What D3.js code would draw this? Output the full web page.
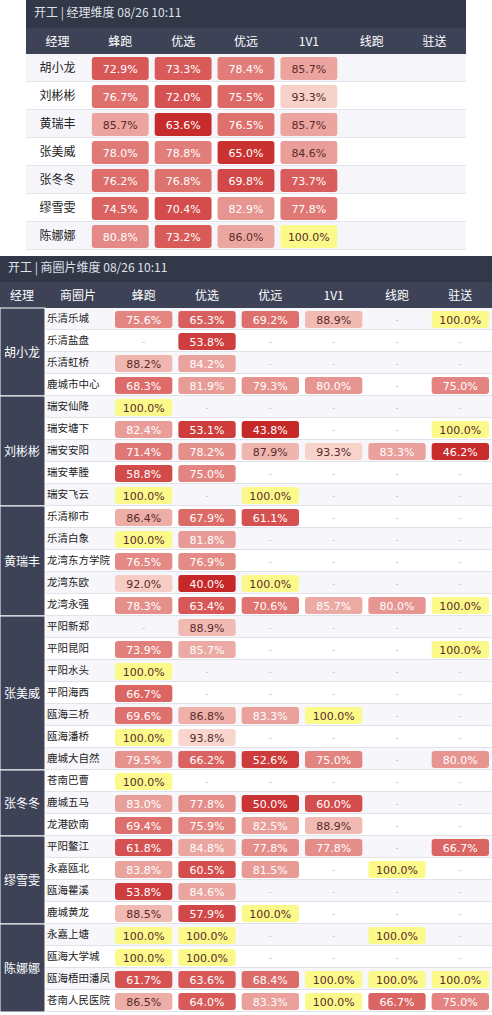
<!DOCTYPE html>
<html><head><meta charset="utf-8">
<script src="https://cdn.jsdelivr.net/npm/d3@7"></script>
<style>body{margin:0;background:#fff;font-family:"Noto Sans CJK SC","DejaVu Sans",sans-serif}</style>
</head><body><svg id="c" width="492" height="1015"></svg>
<script>
const columns = ["蜂跑", "优选", "优远", "1V1", "线跑", "驻送"];
const managers = ["胡小龙", "刘彬彬", "黄瑞丰", "张美威", "张冬冬", "缪雪雯", "陈娜娜"];
const managerValues = [
    [72.9, 73.3, 78.4, 85.7, null, null],
    [76.7, 72.0, 75.5, 93.3, null, null],
    [85.7, 63.6, 76.5, 85.7, null, null],
    [78.0, 78.8, 65.0, 84.6, null, null],
    [76.2, 76.8, 69.8, 73.7, null, null],
    [74.5, 70.4, 82.9, 77.8, null, null],
    [80.8, 73.2, 86.0, 100.0, null, null],
];
// [manager index, area, values]
const areas = [
    [0, "乐清乐城", [75.6, 65.3, 69.2, 88.9, null, 100]],
    [0, "乐清盐盘", [null, 53.8, null, null, null, null]],
    [0, "乐清虹桥", [88.2, 84.2, null, null, null, null]],
    [0, "鹿城市中心", [68.3, 81.9, 79.3, 80.0, null, 75.0]],
    [1, "瑞安仙降", [100, null, null, null, null, null]],
    [1, "瑞安塘下", [82.4, 53.1, 43.8, null, null, 100]],
    [1, "瑞安安阳", [71.4, 78.2, 87.9, 93.3, 83.3, 46.2]],
    [1, "瑞安莘塍", [58.8, 75.0, null, null, null, null]],
    [1, "瑞安飞云", [100, null, 100, null, null, null]],
    [2, "乐清柳市", [86.4, 67.9, 61.1, null, null, null]],
    [2, "乐清白象", [100, 81.8, null, null, null, null]],
    [2, "龙湾东方学院", [76.5, 76.9, null, null, null, null]],
    [2, "龙湾东欧", [92.0, 40.0, 100, null, null, null]],
    [2, "龙湾永强", [78.3, 63.4, 70.6, 85.7, 80.0, 100]],
    [3, "平阳新郑", [null, 88.9, null, null, null, null]],
    [3, "平阳昆阳", [73.9, 85.7, null, null, null, 100]],
    [3, "平阳水头", [100, null, null, null, null, null]],
    [3, "平阳海西", [66.7, null, null, null, null, null]],
    [3, "瓯海三桥", [69.6, 86.8, 83.3, 100, null, null]],
    [3, "瓯海潘桥", [100, 93.8, null, null, null, null]],
    [3, "鹿城大自然", [79.5, 66.2, 52.6, 75.0, null, 80.0]],
    [4, "苍南巴曹", [100, null, null, null, null, null]],
    [4, "鹿城五马", [83.0, 77.8, 50.0, 60.0, null, null]],
    [4, "龙港欧南", [69.4, 75.9, 82.5, 88.9, null, null]],
    [5, "平阳鳌江", [61.8, 84.8, 77.8, 77.8, null, 66.7]],
    [5, "永嘉瓯北", [83.8, 60.5, 81.5, null, 100, null]],
    [5, "瓯海瞿溪", [53.8, 84.6, null, null, null, null]],
    [5, "鹿城黄龙", [88.5, 57.9, 100, null, null, null]],
    [6, "永嘉上塘", [100, 100, null, null, 100, null]],
    [6, "瓯海大学城", [100, 100, null, null, null, null]],
    [6, "瓯海梧田潘凤", [61.7, 63.6, 68.4, 100, 100, 100]],
    [6, "苍南人民医院", [86.5, 64.0, 83.3, 100, 66.7, 75.0]],
];

const svg = d3.select("#c");
const fmt = v => v.toFixed(1) + "%";
const ramp = ["#c62828", "#d65252", "#e07a76", "#eba6a0", "#fadcd3", "#fbf98a"];
const colorTop = d3.scaleLinear().domain([63, 72, 78, 86, 95, 100]).range(ramp).clamp(true);
const colorArea = d3.scaleLinear().domain([45, 62, 72, 85, 95, 100]).range(ramp).clamp(true);

function cell(g, x, y, w, h, v, color, darkFrom) {
    if (v == null) return;
    g.append("rect").attr("x", x + 3).attr("y", y + 3).attr("width", w - 6).attr("height", h - 5)
        .attr("rx", 3).attr("fill", color(v));
    g.append("text").attr("x", x + w / 2).attr("y", y + h / 2 + 5).attr("text-anchor", "middle")
        .attr("font-size", 11).attr("font-family", "DejaVu Sans")
        .attr("fill", v >= darkFrom ? "#5a2a2a" : "#fff").text(fmt(v));
}

/**** manager table ****/
const topG = svg.append("g");
const tx = d3.scaleBand().domain(d3.range(7)).range([26, 466]);
const ty = d3.scaleBand().domain(d3.range(managers.length)).range([54, 250]);
topG.append("rect").attr("x", 26).attr("y", 0).attr("width", 440).attr("height", 28).attr("fill", "#333849");
topG.append("text").attr("x", 34).attr("y", 17).attr("fill", "#dfe1e8").attr("font-size", 12)
    .text("开工 | 经理维度  08/26 10:11");
topG.append("rect").attr("x", 26).attr("y", 28).attr("width", 440).attr("height", 26).attr("fill", "#3d4257");
["经理", ...columns].forEach((c, i) => topG.append("text").attr("x", tx(i) + tx.bandwidth() / 2).attr("y", 46)
    .attr("text-anchor", "middle").attr("fill", "#fff").attr("font-size", 12).text(c));
managers.forEach((m, r) => {
    const y = ty(r), h = ty.bandwidth();
    topG.append("rect").attr("x", 26).attr("y", y).attr("width", 440).attr("height", h)
        .attr("fill", r % 2 ? "#fff" : "#f5f5fa");
    topG.append("line").attr("x1", 26).attr("x2", 466).attr("y1", y + h - 0.5).attr("y2", y + h - 0.5).attr("stroke", "#e4e4ec");
    topG.append("text").attr("x", tx(0) + tx.bandwidth() / 2).attr("y", y + h / 2 + 4).attr("text-anchor", "middle")
        .attr("font-size", 12).attr("fill", "#222").text(m);
    managerValues[r].forEach((v, c) => cell(topG, tx(c + 1), y, tx.bandwidth(), h, v, colorTop, 84));
});

/**** area table ****/
const bot = svg.append("g");
const colX = d3.scaleBand().domain(d3.range(6)).range([112, 492]);
const ry = d3.scaleBand().domain(d3.range(areas.length)).range([308, 1012]);
bot.append("rect").attr("x", 0).attr("y", 256).attr("width", 492).attr("height", 26).attr("fill", "#333849");
bot.append("text").attr("x", 8).attr("y", 272).attr("fill", "#dfe1e8").attr("font-size", 12)
    .text("开工 | 商圈片维度  08/26 10:11");
bot.append("rect").attr("x", 0).attr("y", 282).attr("width", 492).attr("height", 26).attr("fill", "#3d4257");
[["经理", 22], ["商圈片", 78]].forEach(([t, x]) => bot.append("text").attr("x", x).attr("y", 300)
    .attr("text-anchor", "middle").attr("fill", "#fff").attr("font-size", 12).text(t));
columns.forEach((c, i) => bot.append("text").attr("x", colX(i) + colX.bandwidth() / 2).attr("y", 300)
    .attr("text-anchor", "middle").attr("fill", "#fff").attr("font-size", 12).text(c));
areas.forEach(([m, name, vals], r) => {
    const y = ry(r), h = ry.bandwidth();
    bot.append("rect").attr("x", 45).attr("y", y).attr("width", 447).attr("height", h)
        .attr("fill", r % 2 ? "#fff" : "#f7f7fb");
    bot.append("line").attr("x1", 45).attr("x2", 492).attr("y1", y + h - 0.5).attr("y2", y + h - 0.5).attr("stroke", "#e2e2ea");
    bot.append("text").attr("x", 47).attr("y", y + h / 2 + 3).attr("font-size", 10.5).attr("fill", "#222").text(name);
    vals.forEach((v, c) => {
        if (v == null) {
            bot.append("text").attr("x", colX(c) + colX.bandwidth() / 2).attr("y", y + h / 2 + 4)
                .attr("text-anchor", "middle").attr("font-size", 9).attr("fill", "#bbb").text("-");
        } else cell(bot, colX(c), y, colX.bandwidth(), h, v, colorArea, 86);
    });
});
managers.forEach((m, i) => {
    const rows = areas.map((a, r) => a[0] === i ? r : -1).filter(r => r >= 0);
    const y0 = ry(rows[0]), y1 = ry(rows[rows.length - 1]) + ry.bandwidth();
    bot.append("rect").attr("x", 0).attr("y", y0).attr("width", 45).attr("height", y1 - y0)
        .attr("fill", "#3d4257").attr("stroke", "#fff").attr("stroke-width", 1);
    bot.append("text").attr("x", 22).attr("y", (y0 + y1) / 2 + 5).attr("text-anchor", "middle")
        .attr("fill", "#fff").attr("font-size", 12).text(m);
});
</script></body></html>
